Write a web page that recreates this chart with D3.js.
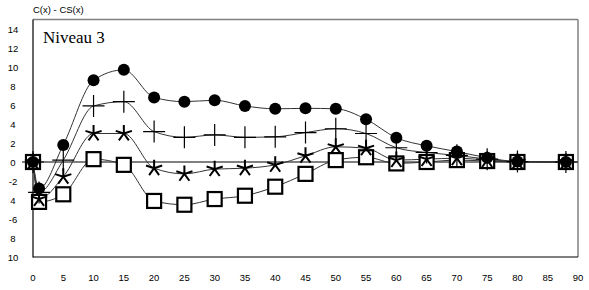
<!DOCTYPE html>
<html><head><meta charset="utf-8">
<script src="https://cdn.jsdelivr.net/npm/d3@7"></script>
<style>body{margin:0;background:#fff}svg{display:block}</style>
</head><body>
<svg id="c" width="589" height="290"></svg>
<script>
const xValues = [0, 1, 5, 10, 15, 20, 25, 30, 35, 40, 45, 50, 55, 60, 65, 70, 75, 80, 88];
const circleSeries = [0, -2.8, 1.8, 8.6, 9.7, 6.8, 6.35, 6.5, 5.9, 5.6, 5.65, 5.6, 4.5, 2.55, 1.7, 1.1, 0.45, 0.05, 0];
const plusSeries   = [0, -3.2, 0.2, 5.9, 6.35, 3.2, 2.6, 2.85, 2.6, 2.65, 3.1, 3.5, 3.0, 1.5, 1.0, 0.7, 0.3, 0.05, 0];
const starSeries   = [0, -3.9, -1.55, 3.0, 3.0, -0.65, -1.25, -0.75, -0.65, -0.3, 0.65, 1.6, 1.45, 0.2, 0.3, 0.4, 0.2, 0, 0];
const squareSeries = [0, -4.2, -3.4, 0.3, -0.3, -4.1, -4.5, -3.9, -3.55, -2.6, -1.25, 0.2, 0.5, -0.15, 0, 0.2, 0.1, 0, 0];
const xTicks = [0,5,10,15,20,25,30,35,40,45,50,55,60,65,70,75,80,85,90];
const yTicks = [14,12,10,8,6,4,2,0,-2,-4,-6,-8,-10];
const yTickLabels = ["14","12","10","8","6","4","2","0","-2","4","-6","8","10"];
const yTitle = "C(x) - CS(x)";
const panelTitle = "Niveau 3";

const svg = d3.select("#c");
const x = d3.scaleLinear().domain([0, 90]).range([33, 578]);
const y = d3.scaleLinear().domain([-10, 15]).range([257, 19.5]);

// plot frame
svg.append("line").attr("x1", 33).attr("x2", 578).attr("y1", 19.5).attr("y2", 19.5).attr("stroke", "#808080").attr("stroke-width", 1.5);
svg.append("line").attr("x1", 578).attr("x2", 578).attr("y1", 19.5).attr("y2", 257).attr("stroke", "#808080").attr("stroke-width", 1.5);
svg.append("line").attr("x1", 33).attr("x2", 33).attr("y1", 19.5).attr("y2", 257.5).attr("stroke", "#000").attr("stroke-width", 1.2);
svg.append("line").attr("x1", 33).attr("x2", 578).attr("y1", 257).attr("y2", 257).attr("stroke", "#000").attr("stroke-width", 1.2);
// zero line
svg.append("line").attr("x1", 33).attr("x2", 578).attr("y1", y(0)).attr("y2", y(0)).attr("stroke", "#000").attr("stroke-width", 1);

// tick labels
const font = "'Liberation Sans', Arial, sans-serif";
svg.append("g").selectAll("text").data(yTicks).join("text")
  .attr("x", 13).attr("y", d => y(d) + 3.5).attr("text-anchor", "middle")
  .attr("font-family", font).attr("font-size", 9.5).attr("fill", "#000")
  .text((d, i) => yTickLabels[i]);
svg.append("g").selectAll("text").data(xTicks).join("text")
  .attr("x", d => x(d)).attr("y", 281).attr("text-anchor", "middle")
  .attr("font-family", font).attr("font-size", 9.5).attr("fill", "#000")
  .text(d => d);

svg.append("text").attr("x", 33).attr("y", 13).attr("font-family", font).attr("font-size", 9.5).text(yTitle);
svg.append("text").attr("x", 43).attr("y", 43).attr("font-family", "'Liberation Serif', 'Times New Roman', serif").attr("font-size", 17).text(panelTitle);

// lines
const line = d3.line().x(d => x(d[0])).y(d => y(d[1])).curve(d3.curveMonotoneX);
const series = [squareSeries, starSeries, plusSeries, circleSeries];
series.forEach(s => {
  svg.append("path").datum(xValues.map((v, i) => [v, s[i]]))
    .attr("d", line).attr("fill", "none").attr("stroke", "#333").attr("stroke-width", 1);
});

// markers
const pts = s => xValues.map((v, i) => [v, s[i]]);
svg.append("g").selectAll("rect").data(pts(squareSeries)).join("rect")
  .attr("x", d => x(d[0]) - 7).attr("y", d => y(d[1]) - 7).attr("width", 14).attr("height", 14)
  .attr("fill", "#fff").attr("stroke", "#000").attr("stroke-width", 2.2);
svg.append("g").selectAll("circle").data(pts(circleSeries)).join("circle")
  .attr("cx", d => x(d[0])).attr("cy", d => y(d[1])).attr("r", 6).attr("fill", "#000");
const starPath = d3.range(5).map(k => {
  const a = (-90 + k * 72) * Math.PI / 180;
  return `M0,0L${(8.5 * Math.cos(a)).toFixed(2)},${(8.5 * Math.sin(a)).toFixed(2)}`;
}).join("");
svg.append("g").selectAll("path").data(pts(starSeries)).join("path")
  .attr("transform", d => `translate(${x(d[0])},${y(d[1])})`).attr("d", starPath)
  .attr("stroke", "#000").attr("stroke-width", 2).attr("fill", "none");
const plusPath = "M-11,0L11,0M0,-11L0,11";
svg.append("g").selectAll("path").data(pts(plusSeries)).join("path")
  .attr("transform", d => `translate(${x(d[0])},${y(d[1])})`).attr("d", plusPath)
  .attr("stroke", "#000").attr("stroke-width", 1.2).attr("fill", "none");
</script>
</body></html>
